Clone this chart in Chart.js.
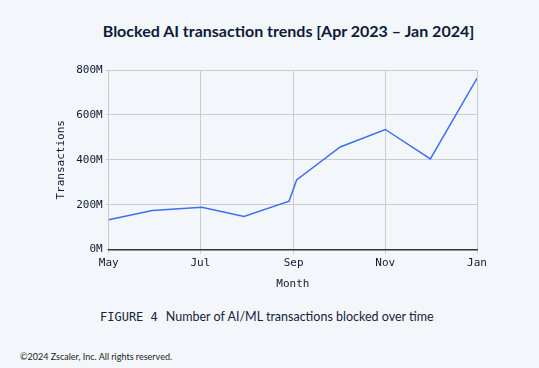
<!DOCTYPE html>
<html>
<head>
<meta charset="utf-8">
<script src="https://cdn.jsdelivr.net/npm/chart.js@4"></script>
<style>
  html, body { margin: 0; padding: 0; background: #f3f7fb; }
  body { width: 539px; height: 368px; position: relative; overflow: hidden; font-family: "Lato", "Noto Sans", sans-serif; }
  #titulo { position: absolute; top: 21px; left: 0; width: 577px; text-align: center; font-size: 16px; font-weight: bold; color: #0d1a3a; }
  #caixa { position: absolute; left: 0; top: 50px; width: 539px; height: 250px; }
  #legenda { position: absolute; top: 309px; left: 100px; font-size: 12.5px; color: #1a2240; }
  #legenda span { font-family: "DejaVu Sans Mono", monospace; font-size: 12px; margin-right: 8px; }
  #rodape { position: absolute; top: 351px; left: 20px; font-size: 9px; color: #222; }
</style>
</head>
<body>
<div id="titulo">Blocked AI transaction trends [Apr 2023 – Jan 2024]</div>
<div id="caixa"><canvas id="myChart" width="539" height="250"></canvas></div>
<div id="legenda"><span>FIGURE 4</span>Number of AI/ML transactions blocked over time</div>
<div id="rodape">©2024 Zscaler, Inc. All rights reserved.</div>
<script>
const datas = ["2023-05-01","2023-05-30","2023-07-02","2023-07-30","2023-08-29","2023-09-03","2023-10-02","2023-11-01","2023-12-01","2024-01-01"];
const transacoes = [133, 174, 189, 148, 216, 310, 457, 535, 404, 763]; // milhoes
const datasTicks = ["2023-05-01","2023-07-01","2023-09-01","2023-11-01","2024-01-01"];
const rotulosTicks = ["May","Jul","Sep","Nov","Jan"];

const inicio = Date.UTC(2023, 4, 1);
function dia(s){
  let p = s.split("-");
  return (Date.UTC(+p[0], +p[1]-1, +p[2]) - inicio) / 86400000;
}
const pontos = datas.map((d, i) => ({ x: dia(d), y: transacoes[i] }));
const posTicks = datasTicks.map(dia);

let ctx = document.getElementById("myChart").getContext("2d");
let myChart = new Chart(ctx, {
  type: "line",
  data: {
    datasets: [{
      data: pontos,
      borderColor: "#3b70f2",
      borderWidth: 1.5,
      pointRadius: 0,
      tension: 0,
      fill: false,
    }],
  },
  options: {
    responsive: false,
    animation: false,
    maintainAspectRatio: false,
    layout: { padding: { left: 51, right: 62, top: 20, bottom: 5 } },
    plugins: { legend: { display: false }, tooltip: { enabled: false } },
    scales: {
      x: {
        type: "linear",
        min: posTicks[0],
        max: posTicks[posTicks.length - 1],
        afterBuildTicks: (axis) => { axis.ticks = posTicks.map(v => ({ value: v })); },
        ticks: {
          autoSkip: false,
          maxRotation: 0,
          color: "#111a33",
          font: { family: "DejaVu Sans Mono", size: 11 },
          callback: (v) => rotulosTicks[posTicks.indexOf(v)],
        },
        grid: { color: "#cccccc", tickLength: 4 },
        border: { color: "#333333", width: 1.5 },
        title: { display: true, text: "Month", color: "#111a33", font: { family: "DejaVu Sans Mono", size: 11 }, padding: { top: 5 } },
      },
      y: {
        min: 0,
        max: 800,
        ticks: {
          stepSize: 200,
          color: "#111a33",
          font: { family: "DejaVu Sans Mono", size: 11 },
          callback: (v) => v + "M",
        },
        grid: { color: "#cccccc", tickLength: 3 },
        border: { display: false },
        title: { display: true, text: "Transactions", color: "#111a33", font: { family: "DejaVu Sans Mono", size: 11 }, padding: { bottom: 5 } },
      },
    },
  },
});
</script>
</body>
</html>
